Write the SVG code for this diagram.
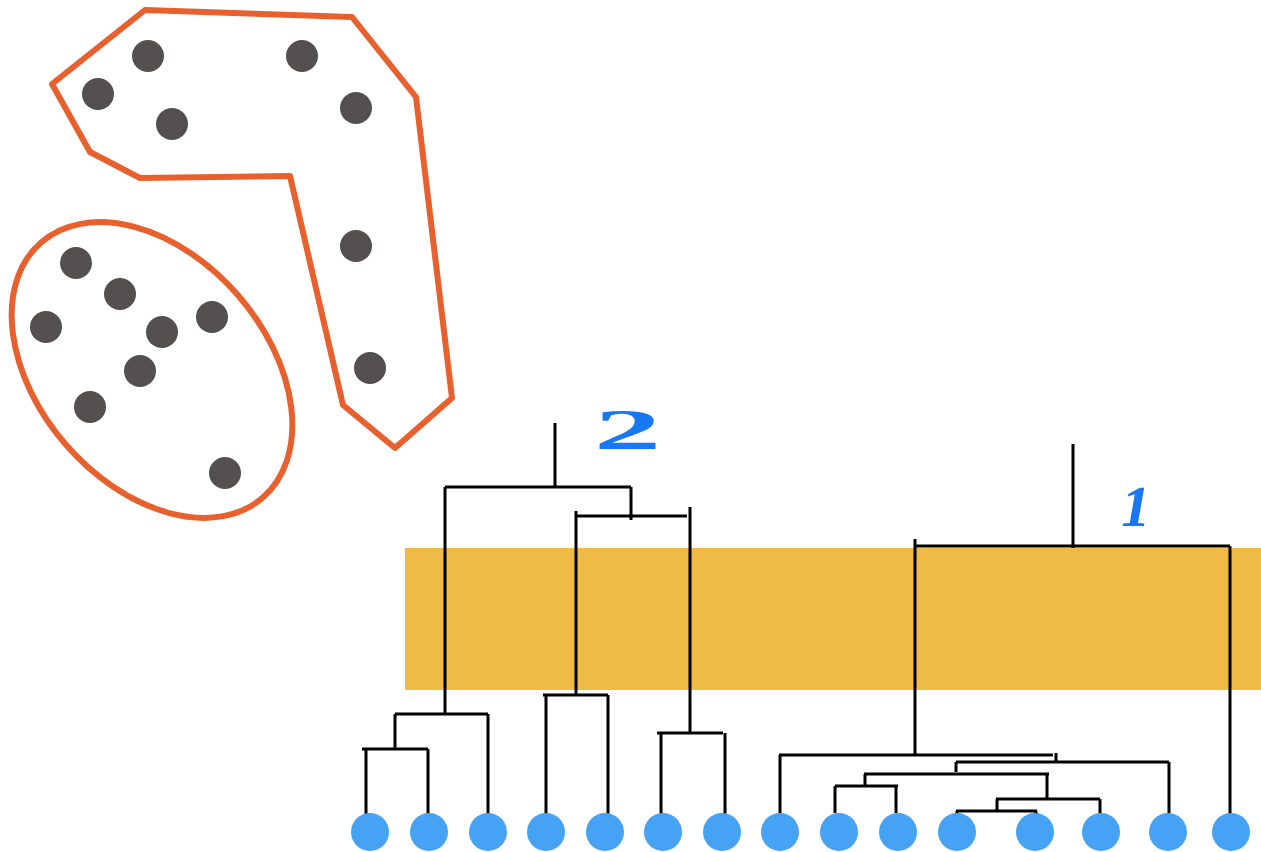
<svg xmlns="http://www.w3.org/2000/svg" width="1261" height="852" viewBox="0 0 1261 852">
<style>
.hull{fill:none;stroke:#E8602E;stroke-width:6;stroke-linejoin:round}
.pt{fill:#545050}
.leaf{fill:#45A2F4}
.ln{fill:none;stroke:#000;stroke-width:3;stroke-linecap:butt}
.hand{fill:#1878F2;font-family:"Liberation Serif",serif;font-weight:bold}
</style>
<rect width="1261" height="852" fill="#fff"/>
<g id="cluster-hull-top">
<polygon class="hull" points="52,84 145,10 352,17 416,97 452,398 395,448 343,405 290,176 140,178 90,152"/>
</g>
<g id="cluster-hull-ellipse">
<ellipse class="hull" cx="152" cy="370" rx="169" ry="114" transform="rotate(49 152 370)"/>
</g>
<g id="points-top">
<circle class="pt" cx="148" cy="56" r="16"/>
<circle class="pt" cx="302" cy="56" r="16"/>
<circle class="pt" cx="98" cy="94" r="16"/>
<circle class="pt" cx="172" cy="124" r="16"/>
<circle class="pt" cx="356" cy="108" r="16"/>
<circle class="pt" cx="356" cy="246" r="16"/>
<circle class="pt" cx="370" cy="368" r="16"/>
</g>
<g id="points-ellipse">
<circle class="pt" cx="76" cy="263" r="16"/>
<circle class="pt" cx="120" cy="294" r="16"/>
<circle class="pt" cx="46" cy="327" r="16"/>
<circle class="pt" cx="162" cy="332" r="16"/>
<circle class="pt" cx="212" cy="317" r="16"/>
<circle class="pt" cx="140" cy="371" r="16"/>
<circle class="pt" cx="90" cy="407" r="16"/>
<circle class="pt" cx="225" cy="473" r="16"/>
</g>
<g id="cut-band">
<rect x="405" y="548" width="856" height="142" fill="#EFBB45"/>
</g>
<g id="connectors">
<path class="ln" d="M555,423 V487 M445,487 H631 M631,487 V520 M576,516 H687 M576,511 V695 M690,507 V733 M445,487 V714"/>
<path class="ln" d="M395,714 H488 M488,714 V818 M395,714 V749 M362,749 H428 M366,749 V815 M428,749 V815"/>
<path class="ln" d="M543,695 H608 M546,695 V815 M608,695 V815"/>
<path class="ln" d="M657,733 H723 M661,733 V815 M725,733 V815"/>
<path class="ln" d="M1073,444 V548 M915,546 H1230 M915,539 V755 M1230,546 V815"/>
<path class="ln" d="M779,755 H1053 M780,755 V813 M1056,753 V762 M956,762 H1169 M1169,762 V813 M956,762 V772"/>
<path class="ln" d="M864,774 H1049 M865,774 V786 M835,786 H898 M835,786 V813 M896,786 V813"/>
<path class="ln" d="M1047,774 V799 M996,799 H1100 M1100,799 V813 M997,799 V811 M956,811 H1037 M957,811 V816 M1036,811 V816"/>
</g>
<g id="leaves">
<circle class="leaf" cx="370" cy="832" r="19"/>
<circle class="leaf" cx="429" cy="832" r="19"/>
<circle class="leaf" cx="488" cy="832" r="19"/>
<circle class="leaf" cx="546" cy="832" r="19"/>
<circle class="leaf" cx="605" cy="832" r="19"/>
<circle class="leaf" cx="663" cy="832" r="19"/>
<circle class="leaf" cx="722" cy="832" r="19"/>
<circle class="leaf" cx="780" cy="832" r="19"/>
<circle class="leaf" cx="839" cy="832" r="19"/>
<circle class="leaf" cx="898" cy="832" r="19"/>
<circle class="leaf" cx="957" cy="832" r="19"/>
<circle class="leaf" cx="1035" cy="832" r="19"/>
<circle class="leaf" cx="1101" cy="832" r="19"/>
<circle class="leaf" cx="1168" cy="832" r="19"/>
<circle class="leaf" cx="1231" cy="832" r="19"/>
</g>
<g id="label-2">
<text class="hand" font-size="56" transform="translate(594,449) scale(2.4,1)">2</text>
</g>
<g id="label-1">
<text class="hand" font-size="58" transform="translate(1118,526) skewX(-10)">1</text>
</g>
</svg>
